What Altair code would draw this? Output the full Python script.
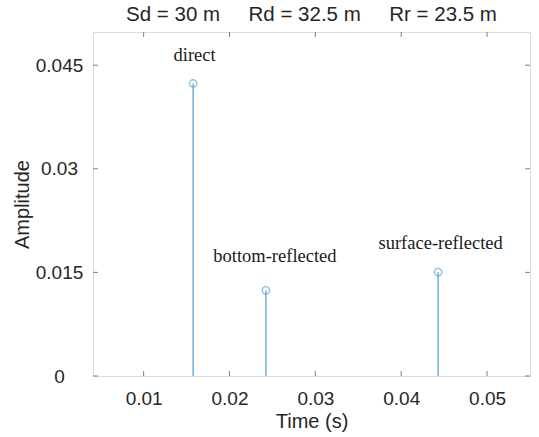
import altair as alt
import pandas as pd

# ---- data ----
names = ["direct", "bottom-reflected", "surface-reflected"]
times = [0.01576, 0.02424, 0.0443]
amps = [0.04235, 0.01239, 0.01504]
label_x = [0.01593, 0.02529, 0.04459]
label_y = [0.04645, 0.01732, 0.0192]

x_ticks = [0.01, 0.02, 0.03, 0.04, 0.05]
y_ticks = [0, 0.015, 0.03, 0.045]
x_domain = [0.0041, 0.0550]
y_domain = [0, 0.0498]

GAP = "\u00a0" * 5
title_text = "Sd = 30 m" + GAP + "Rd = 32.5 m" + GAP + "Rr = 23.5 m"

W, H = 437, 344
STEM = "#5aa5d2"
TXT = "#262626"
FRAME = "#7f7f7f"

df = pd.DataFrame({"name": names, "t": times, "a": amps, "zero": [0.0] * 3,
                   "lx": label_x, "ly": label_y})
xt = pd.DataFrame({"v": x_ticks})
yt = pd.DataFrame({"v": y_ticks})

xs = alt.Scale(domain=x_domain, nice=False, zero=False)
ys = alt.Scale(domain=y_domain, nice=False, zero=False)

xaxis = alt.Axis(values=x_ticks, format=".2f", title="Time (s)", grid=False,
                 domain=False, ticks=False, tickSize=0, labelPadding=13,
                 labelFontSize=19, titleFontSize=20, titlePadding=3,
                 labelColor=TXT, titleColor=TXT, labelFont="Liberation Sans",
                 titleFont="Liberation Sans", titleFontWeight="normal")
yaxis = alt.Axis(values=y_ticks, title="Amplitude", grid=False, format="~g",
                 domain=False, ticks=False, tickSize=0, labelPadding=34,
                 labelAlign="center",
                 labelFontSize=19, titleFontSize=20, titlePadding=3,
                 labelColor=TXT, titleColor=TXT, labelFont="Liberation Sans",
                 titleFont="Liberation Sans", titleFontWeight="normal")

stems = alt.Chart(df).mark_rule(color=STEM, strokeWidth=1.3).encode(
    x=alt.X("t:Q", scale=xs, axis=xaxis),
    y=alt.Y("a:Q", scale=ys, axis=yaxis),
    y2="zero:Q",
)
heads = alt.Chart(df).mark_point(shape="circle", filled=False, size=55,
                                 color=STEM, strokeWidth=1.3).encode(
    x=alt.X("t:Q", scale=xs), y=alt.Y("a:Q", scale=ys))
labels = alt.Chart(df).mark_text(font="Liberation Serif", fontSize=18.5,
                                 color="#1a1a1a", align="center",
                                 baseline="middle").encode(
    x=alt.X("lx:Q", scale=xs), y=alt.Y("ly:Q", scale=ys), text="name:N")

xb = alt.Chart(xt).mark_rule(color=FRAME, strokeWidth=1).encode(
    x=alt.X("v:Q", scale=xs), y=alt.value(H), y2=alt.value(H - 5))
xtop = alt.Chart(xt).mark_rule(color=FRAME, strokeWidth=1).encode(
    x=alt.X("v:Q", scale=xs), y=alt.value(0), y2=alt.value(5))
yl = alt.Chart(yt).mark_rule(color=FRAME, strokeWidth=1).encode(
    y=alt.Y("v:Q", scale=ys), x=alt.value(0), x2=alt.value(5))
yr = alt.Chart(yt).mark_rule(color=FRAME, strokeWidth=1).encode(
    y=alt.Y("v:Q", scale=ys), x=alt.value(W), x2=alt.value(W - 5))

chart = alt.layer(stems, heads, labels, xb, xtop, yl, yr).properties(
    width=W, height=H,
    title=alt.TitleParams(title_text, fontSize=20.5, font="Liberation Sans",
                          fontWeight="normal", color=TXT, offset=6,
                          anchor="middle"),
    autosize=alt.AutoSizeParams(type="none"),
    padding={"left": 93, "top": 32, "right": 9, "bottom": 61},
).configure_view(stroke=FRAME, strokeWidth=1).configure(background="white")

chart.save("out.html", embed_options={"renderer": "svg", "actions": False})
